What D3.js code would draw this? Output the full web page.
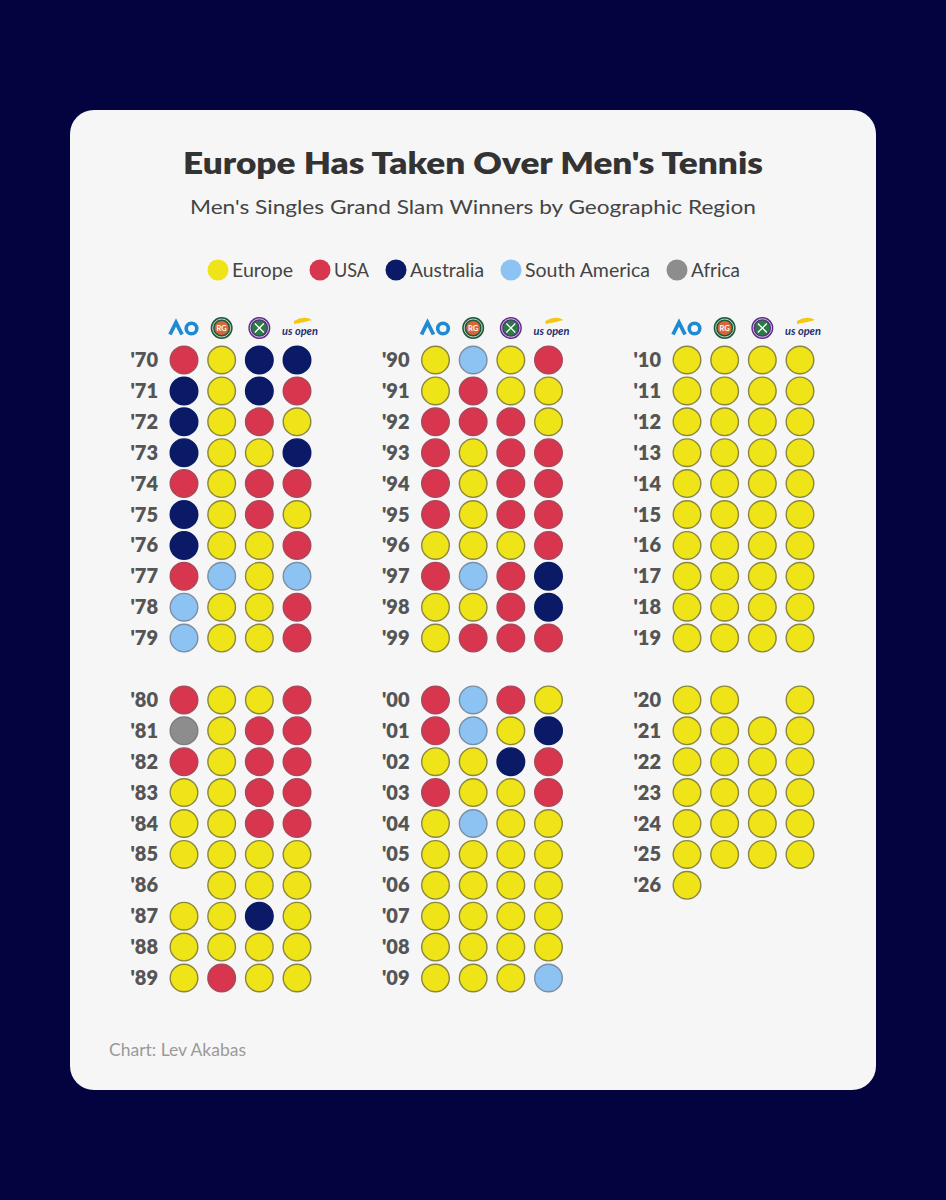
<!DOCTYPE html>
<html>
<head>
<meta charset="utf-8">
<script src="https://cdn.jsdelivr.net/npm/d3@7"></script>
<style>
  html, body { margin: 0; padding: 0; background: #03033f; }
  svg { display: block; }
</style>
</head>
<body>
<svg id="chart" width="946" height="1200"></svg>
<script>
// ---- DATA ----
const regions = ["Europe", "USA", "Australia", "South America", "Africa"];
const regionCodes = ["E", "U", "A", "S", "F"];
const regionColors = ["#efe417", "#d8354f", "#0a1a66", "#8cc3f2", "#8d8d8d"];
const slams = ["AO", "RG", "WIM", "USO"];

// each row: [AO, French Open, Wimbledon, US Open]; null = not held
const years1970s = ["'70","'71","'72","'73","'74","'75","'76","'77","'78","'79"];
const winners1970s = [
  ["U","E","A","A"],
  ["A","E","A","U"],
  ["A","E","U","E"],
  ["A","E","E","A"],
  ["U","E","U","U"],
  ["A","E","U","E"],
  ["A","E","E","U"],
  ["U","S","E","S"],
  ["S","E","E","U"],
  ["S","E","E","U"]
];
const years1980s = ["'80","'81","'82","'83","'84","'85","'86","'87","'88","'89"];
const winners1980s = [
  ["U","E","E","U"],
  ["F","E","U","U"],
  ["U","E","U","U"],
  ["E","E","U","U"],
  ["E","E","U","U"],
  ["E","E","E","E"],
  [null,"E","E","E"],
  ["E","E","A","E"],
  ["E","E","E","E"],
  ["E","U","E","E"]
];
const years1990s = ["'90","'91","'92","'93","'94","'95","'96","'97","'98","'99"];
const winners1990s = [
  ["E","S","E","U"],
  ["E","U","E","E"],
  ["U","U","U","E"],
  ["U","E","U","U"],
  ["U","E","U","U"],
  ["U","E","U","U"],
  ["E","E","E","U"],
  ["U","S","U","A"],
  ["E","E","U","A"],
  ["E","U","U","U"]
];
const years2000s = ["'00","'01","'02","'03","'04","'05","'06","'07","'08","'09"];
const winners2000s = [
  ["U","S","U","E"],
  ["U","S","E","A"],
  ["E","E","A","U"],
  ["U","E","E","U"],
  ["E","S","E","E"],
  ["E","E","E","E"],
  ["E","E","E","E"],
  ["E","E","E","E"],
  ["E","E","E","E"],
  ["E","E","E","S"]
];
const years2010s = ["'10","'11","'12","'13","'14","'15","'16","'17","'18","'19"];
const winners2010s = [
  ["E","E","E","E"],
  ["E","E","E","E"],
  ["E","E","E","E"],
  ["E","E","E","E"],
  ["E","E","E","E"],
  ["E","E","E","E"],
  ["E","E","E","E"],
  ["E","E","E","E"],
  ["E","E","E","E"],
  ["E","E","E","E"]
];
const years2020s = ["'20","'21","'22","'23","'24","'25","'26"];
const winners2020s = [
  ["E","E",null,"E"],
  ["E","E","E","E"],
  ["E","E","E","E"],
  ["E","E","E","E"],
  ["E","E","E","E"],
  ["E","E","E","E"],
  ["E",null,null,null]
];

const titleText = "Europe Has Taken Over Men's Tennis";
const subtitleText = "Men's Singles Grand Slam Winners by Geographic Region";
const creditText = "Chart: Lev Akabas";

// ---- LAYOUT ----
const svg = d3.select("#chart");
const W = 946;

svg.append("rect").attr("x", 0).attr("y", 0).attr("width", W).attr("height", 1200).attr("fill", "#03033f");
svg.append("rect").attr("x", 70).attr("y", 110).attr("width", 806).attr("height", 980)
  .attr("rx", 24).attr("fill", "#f6f6f6");

const FONT = "Lato, 'Open Sans', sans-serif";

svg.append("text").attr("x", 473).attr("y", 174).attr("text-anchor", "middle")
  .attr("font-family", FONT).attr("font-weight", 800).attr("font-size", 31)
  .attr("fill", "#333").attr("textLength", 580).attr("lengthAdjust", "spacingAndGlyphs")
  .text(titleText);
svg.append("text").attr("x", 473).attr("y", 214).attr("text-anchor", "middle")
  .attr("font-family", FONT).attr("font-weight", 400).attr("font-size", 20)
  .attr("fill", "#444").attr("textLength", 566).attr("lengthAdjust", "spacingAndGlyphs")
  .text(subtitleText);

// legend
const color = d3.scaleOrdinal().domain(regionCodes).range(regionColors);
const stroke = d3.scaleOrdinal().domain(regionCodes)
  .range(["#8a8642", "#a64a5a", "#0a1a66", "#7a8fa3", "#7d7d7d"]);
const legendX = [218, 320, 396, 511, 677];
const legendW = [61, 35, 74, 125, 49];
const lg = svg.append("g");
const li = lg.selectAll("g").data(regions).join("g")
  .attr("transform", (d, i) => `translate(${legendX[i]},270)`);
li.append("circle").attr("r", 10.5).attr("fill", (d, i) => regionColors[i]);
li.append("text").attr("x", 14).attr("y", 6.5).attr("font-family", FONT).attr("font-size", 18.5)
  .attr("fill", "#444").attr("textLength", (d, i) => legendW[i]).attr("lengthAdjust", "spacingAndGlyphs")
  .text(d => d);

// scales
const panelX = d3.scalePoint().domain([0, 1, 2]).range([184, 687]);
const slamX = d3.scalePoint().domain(slams).range([0, 113]);
const rowY = d3.scaleLinear().domain([0, 1]).range([360, 390.9]);

const panels = [
  [{years: years1970s, winners: winners1970s, start: 0}, {years: years1980s, winners: winners1980s, start: 11}],
  [{years: years1990s, winners: winners1990s, start: 0}, {years: years2000s, winners: winners2000s, start: 11}],
  [{years: years2010s, winners: winners2010s, start: 0}, {years: years2020s, winners: winners2020s, start: 11}]
];

panels.forEach((blocks, p) => {
  const g = svg.append("g").attr("transform", `translate(${panelX(p)},0)`);

  const iy = 328;
  // AO
  const ao = g.append("g").attr("transform", `translate(${slamX("AO")},${iy})`);
  ao.append("path").attr("d", "M-14,6.5 L-8,-5.5 L-2,6.5").attr("fill", "none")
    .attr("stroke", "#1d8ad3").attr("stroke-width", 3.8).attr("stroke-linejoin", "miter");
  ao.append("circle").attr("cx", 7.5).attr("cy", 0.5).attr("r", 5.3).attr("fill", "none")
    .attr("stroke", "#1d8ad3").attr("stroke-width", 3.6);
  // Roland Garros
  const rg = g.append("g").attr("transform", `translate(${slamX("RG")},${iy})`);
  rg.append("circle").attr("r", 11).attr("fill", "#1e5a38");
  rg.append("circle").attr("r", 7).attr("fill", "#d9663b");
  rg.append("circle").attr("r", 9).attr("fill", "none").attr("stroke", "#eee").attr("stroke-width", 0.8);
  rg.append("text").attr("y", 3).attr("text-anchor", "middle").attr("font-size", 7.5)
    .attr("font-family", FONT).attr("font-weight", 700).attr("fill", "#fff").text("RG");
  // Wimbledon
  const wi = g.append("g").attr("transform", `translate(${slamX("WIM")},${iy})`);
  wi.append("circle").attr("r", 11).attr("fill", "#5a2c87");
  wi.append("circle").attr("r", 7.5).attr("fill", "#2a7a44");
  wi.append("path").attr("d", "M-4.5,-4.5 L4.5,4.5 M4.5,-4.5 L-4.5,4.5").attr("stroke", "#fff").attr("stroke-width", 1.3);
  wi.append("circle").attr("r", 9.2).attr("fill", "none").attr("stroke", "#fff").attr("stroke-width", 0.7);
  // US Open
  const us = g.append("g").attr("transform", `translate(${slamX("USO")},${iy})`);
  us.append("path").attr("d", "M-3,-7 Q7,-13 15,-8 Q7,-5.5 -3,-4 Z").attr("fill", "#f6c612");
  us.append("text").attr("x", 3).attr("y", 6.5).attr("text-anchor", "middle")
    .attr("font-family", FONT).attr("font-weight", 700).attr("font-style", "italic")
    .attr("font-size", 11).attr("fill", "#1f2d6e").text("us open");

  blocks.forEach(b => {
    g.selectAll(null).data(b.years).join("text")
      .attr("x", -26).attr("y", (d, i) => rowY(b.start + i) + 7)
      .attr("text-anchor", "end").attr("font-family", FONT).attr("font-weight", 800)
      .attr("font-size", 20).attr("fill", "#555").text(d => d);

    const cells = [];
    b.winners.forEach((row, i) => row.forEach((v, j) => {
      if (v) cells.push({row: b.start + i, slam: slams[j], v});
    }));
    g.selectAll(null).data(cells).join("circle")
      .attr("cx", d => slamX(d.slam)).attr("cy", d => rowY(d.row)).attr("r", 13.8)
      .attr("fill", d => color(d.v)).attr("stroke", d => stroke(d.v)).attr("stroke-width", 1.4);
  });
});

svg.append("text").attr("x", 109).attr("y", 1056).attr("font-family", FONT)
  .attr("font-size", 17.5).attr("fill", "#9a9a9a").text(creditText);
</script>
</body>
</html>
